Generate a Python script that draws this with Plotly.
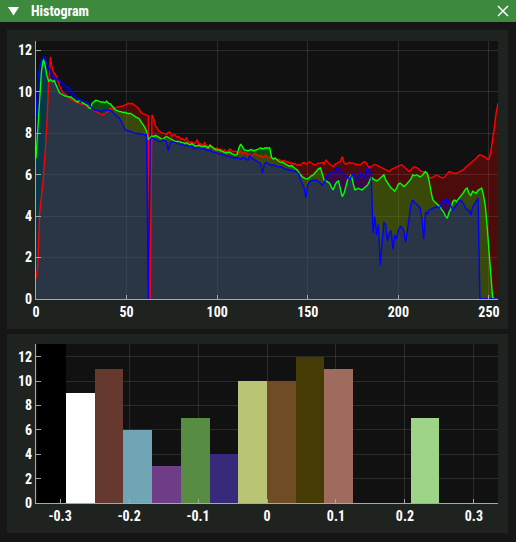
import plotly.graph_objects as go

# ---------------- data ----------------
bins = list(range(256))

red = [
    1.0, 1.6, 4.1, 4.9, 5.8, 7.0, 8.4, 10.5, 11.7, 11.1,
    10.9, 10.8, 10.5, 10.3, 10.1, 9.95, 9.9, 9.8, 9.75, 9.65,
    9.6, 9.55, 9.5, 9.5, 9.45, 9.4, 9.45, 9.35, 9.3, 9.35,
    9.25, 9.2, 9.1, 9.05, 9.0, 8.98, 8.92, 8.9, 8.95, 9.0,
    9.1, 9.2, 9.18, 9.22, 9.25, 9.28, 9.3, 9.3, 9.33, 9.35,
    9.4, 9.45, 9.42, 9.45, 9.38, 9.35, 9.25, 9.15, 9.0, 8.95,
    8.9, 8.88, 8.85, 0.0, 8.9, 8.7, 8.35, 8.2, 8.1, 8.05,
    8.0, 8.0, 7.95, 8.05, 8.05, 7.85, 7.95, 7.9, 7.8, 7.85,
    7.7, 7.75, 7.65, 7.8, 7.6, 7.55, 7.6, 7.5, 7.55, 7.7,
    7.45, 7.5, 7.4, 7.55, 7.4, 7.3, 7.45, 7.35, 7.3, 7.25,
    7.3, 7.2, 7.25, 7.15, 7.2, 7.1, 7.15, 7.25, 7.15, 7.1,
    7.15, 7.1, 7.05, 7.15, 7.0, 7.1, 7.05, 6.95, 7.0, 6.9,
    7.0, 7.05, 6.95, 6.9, 6.95, 6.85, 6.9, 6.95, 6.8, 6.85,
    6.8, 6.75, 6.8, 6.7, 6.75, 6.7, 6.65, 6.7, 6.6, 6.65,
    6.55, 6.6, 6.5, 6.55, 6.45, 6.5, 6.45, 6.55, 6.6, 6.5,
    6.55, 6.63, 6.58, 6.5, 6.47, 6.52, 6.57, 6.55, 6.6, 6.5,
    6.72, 6.6, 6.5, 6.45, 6.39, 6.5, 6.55, 6.6, 6.65, 6.87,
    6.6, 6.5, 6.55, 6.6, 6.55, 6.57, 6.52, 6.5, 6.48, 6.47,
    6.55, 6.63, 6.6, 6.45, 6.33, 6.4, 6.45, 6.5, 6.47, 6.42,
    6.38, 6.33, 6.3, 6.25, 6.2, 6.15, 6.25, 6.3, 6.35, 6.39,
    6.42, 6.45, 6.47, 6.4, 6.3, 6.2, 6.15, 6.25, 6.35, 6.39,
    6.35, 6.3, 6.2, 6.15, 6.15, 6.1, 6.05, 5.9, 5.85, 5.88,
    5.95, 5.99, 5.95, 5.9, 5.85, 5.85, 5.95, 6.05, 6.15, 6.12,
    6.08, 6.07, 6.07, 6.1, 6.15, 6.2, 6.25, 6.35, 6.42, 6.5,
    6.58, 6.63, 6.7, 6.8, 6.9, 6.96, 6.93, 6.9, 6.85, 6.75,
    6.75, 7.1, 7.6, 8.3, 9.0, 9.45,
]

green = [
    6.8, 8.2, 9.8, 11.0, 11.6, 11.3, 10.8, 10.5, 10.6, 10.5,
    10.55, 10.35, 10.15, 9.95, 9.9, 9.85, 9.8, 9.8, 9.75, 9.77,
    9.7, 9.6, 9.55, 9.5, 9.6, 9.55, 9.45, 9.4, 9.37, 9.25,
    9.2, 9.45, 9.55, 9.6, 9.58, 9.55, 9.5, 9.52, 9.48, 9.55,
    9.45, 9.42, 9.3, 9.2, 9.12, 9.1, 9.05, 9.05, 9.0, 9.02,
    8.97, 8.95, 8.97, 8.9, 8.85, 8.8, 8.75, 8.7, 8.55, 8.45,
    8.3, 8.1, 7.7, 7.8, 7.87, 7.85, 7.9, 7.85, 7.8, 7.75,
    7.7, 7.8, 7.85, 7.8, 7.75, 7.7, 7.65, 7.6, 7.62, 7.6,
    7.6, 7.55, 7.5, 7.55, 7.5, 7.45, 7.5, 7.42, 7.38, 7.4,
    7.42, 7.38, 7.35, 7.4, 7.35, 7.3, 7.42, 7.35, 7.28, 7.22,
    7.2, 7.2, 7.15, 7.12, 7.1, 7.05, 7.08, 7.1, 7.02, 7.0,
    6.95, 6.98, 7.3, 7.48, 7.35, 7.2, 7.18, 7.15, 7.2, 7.22,
    7.15, 7.18, 7.2, 7.25, 7.3, 7.25, 7.28, 7.3, 7.28, 7.3,
    6.85, 6.75, 6.8, 6.7, 6.65, 6.6, 6.62, 6.55, 6.5, 6.45,
    6.4, 6.45, 6.35, 6.3, 6.25, 6.1, 6.0, 5.9, 5.85, 5.8,
    5.8, 5.9, 5.95, 5.99, 6.1, 6.2, 6.3, 6.33, 6.0, 5.75,
    5.7, 5.65, 5.6, 5.4, 5.27, 5.5, 5.65, 5.7, 5.3, 4.94,
    5.1, 5.4, 5.75, 5.85, 6.0, 5.6, 5.27, 5.3, 5.35, 5.3,
    5.27, 5.35, 5.43, 5.5, 5.67, 5.91, 5.8, 5.75, 5.7, 5.75,
    5.85, 5.95, 6.0, 5.75, 5.6, 5.45, 5.35, 5.3, 5.2, 5.35,
    5.55, 5.6, 5.5, 5.43, 5.5, 5.6, 5.7, 5.8, 6.0, 5.95,
    6.0, 5.95, 5.9, 5.95, 6.05, 6.15, 6.05, 5.7, 5.2, 4.8,
    4.7, 4.62, 4.55, 4.46, 4.3, 4.2, 4.0, 3.9, 4.2, 4.35,
    4.7, 4.78, 4.7, 4.8, 4.95, 5.05, 5.15, 5.3, 5.36, 5.1,
    5.0, 5.2, 5.15, 5.1, 5.25, 5.3, 5.36, 5.0, 4.5, 3.5,
    2.4, 1.3, 0.1, 0.0, 0.0, 0.0,
]

blue = [
    8.8, 10.5, 11.2, 11.5, 11.65, 11.7, 11.4, 11.2, 11.0, 10.8,
    10.7, 10.65, 10.6, 10.55, 10.45, 10.35, 10.25, 10.2, 10.22, 10.1,
    9.95, 9.85, 9.75, 9.7, 9.6, 9.55, 9.55, 9.5, 9.55, 9.4,
    9.3, 9.2, 9.15, 9.1, 9.12, 9.1, 9.05, 9.1, 9.12, 9.15,
    9.1, 9.12, 9.05, 8.95, 8.85, 8.8, 8.75, 8.6, 8.4, 8.2,
    8.15, 8.12, 8.1, 8.05, 8.02, 8.0, 7.98, 8.0, 7.95, 7.97,
    7.92, 7.95, 0.0, 7.7, 7.8, 7.75, 7.72, 7.65, 7.6, 7.6,
    7.7, 7.65, 7.6, 7.15, 7.55, 7.6, 7.58, 7.55, 7.5, 7.52,
    7.45, 7.48, 7.4, 7.42, 7.38, 7.35, 7.4, 7.3, 7.28, 7.32,
    7.3, 7.25, 7.28, 7.22, 7.2, 7.15, 7.2, 7.12, 7.1, 7.08,
    7.05, 7.02, 7.0, 6.98, 6.95, 6.9, 6.92, 6.88, 6.85, 6.82,
    6.8, 6.82, 6.78, 6.75, 6.8, 6.85, 6.75, 6.7, 6.96, 6.8,
    6.75, 6.7, 6.65, 6.6, 6.55, 6.08, 6.5, 6.6, 6.55, 6.5,
    6.45, 6.48, 6.42, 6.4, 6.38, 6.4, 6.35, 6.3, 6.25, 6.28,
    6.2, 6.22, 6.15, 6.18, 6.1, 6.05, 5.75, 5.6, 5.4, 4.9,
    5.5, 5.67, 5.7, 5.75, 5.72, 5.75, 5.65, 5.6, 5.5, 5.6,
    5.8, 6.0, 6.05, 6.1, 6.07, 6.15, 6.3, 6.33, 6.15, 6.1,
    6.0, 5.95, 5.9, 5.75, 5.95, 6.1, 5.9, 5.75, 5.95, 6.15,
    6.0, 5.9, 6.05, 6.33, 6.2, 6.0, 3.19, 3.98, 3.1, 3.6,
    1.65, 2.6, 3.7, 3.6, 2.8, 3.2, 3.3, 2.4, 3.1, 2.9,
    3.3, 3.5, 3.45, 3.3, 2.75, 3.3, 3.9, 4.6, 4.78, 4.65,
    4.6, 4.5, 4.4, 3.9, 2.9, 4.2, 4.1, 4.3, 4.35, 4.4,
    4.42, 4.45, 4.4, 4.45, 4.7, 4.78, 4.65, 4.87, 4.6, 4.5,
    4.3, 4.4, 4.55, 4.65, 4.78, 4.72, 4.6, 4.4, 4.3, 4.3,
    4.06, 4.45, 4.6, 4.78, 4.87, 0.0, 0.0, 0.0, 0.0, 0.0,
    0.0, 0.0, 0.0, 0.0, 0.0, 0.0,
]

bar_centers = [-0.3125, -0.2708, -0.2292, -0.1875, -0.1458, -0.1042, -0.0625, -0.0208,
               0.0208, 0.0625, 0.1042, 0.1458, 0.1875, 0.2292, 0.2708, 0.3125]
bar_counts = [13, 9, 11, 6, 3, 7, 4, 10, 10, 12, 11, 0, 0, 7, 0, 0]
bar_colors = ["#000000", "#ffffff", "#66392e", "#6fa5b5", "#6f3d87", "#578c42",
              "#372a7b", "#b9c575", "#6f4b26", "#463b05", "#9e6b5e", "#5a5a5a",
              "#5a5a5a", "#9ed488", "#5a5a5a", "#5a5a5a"]
bar_width = 0.04167

x_ticks_top = [0, 50, 100, 150, 200, 250]
y_ticks_top = [0, 2, 4, 6, 8, 10, 12]
x_ticks_bot = [-0.3, -0.2, -0.1, 0, 0.1, 0.2, 0.3]
x_ticktext_bot = ["-0.3", "-0.2", "-0.1", "0", "0.1", "0.2", "0.3"]
y_ticks_bot = [0, 2, 4, 6, 8, 10, 12]

# ---------------- layout helpers ----------------
W, H = 516, 542
def px(x):
    return x / W
def py(y):
    return 1 - y / H

FONT = "Liberation Sans Narrow, Arial Narrow, Roboto Condensed, sans-serif"
tickfont = dict(family=FONT, size=14, color="#ffffff", weight="bold")

fig = go.Figure()

fills = [(red, "rgba(255,0,0,0.25)"), (green, "rgba(0,255,0,0.25)"), (blue, "rgba(0,0,255,0.25)")]
for ys, fc in fills:
    fig.add_trace(go.Scatter(x=bins, y=ys, mode="lines", line=dict(width=0),
                             fill="tozeroy", fillcolor=fc, hoverinfo="skip",
                             xaxis="x", yaxis="y", showlegend=False))
lines = [(red, "#ff0000"), (green, "#00ff00"), (blue, "#0000ff")]
for ys, lc in lines:
    fig.add_trace(go.Scatter(x=bins, y=ys, mode="lines", line=dict(width=1.4, color=lc),
                             xaxis="x", yaxis="y", showlegend=False))

fig.add_trace(go.Bar(x=bar_centers, y=bar_counts, width=bar_width,
                     marker=dict(color=bar_colors, line=dict(width=0)),
                     xaxis="x2", yaxis="y2", showlegend=False))

grid = "rgba(255,255,255,0.11)"
axis_common = dict(showline=True, linecolor="#a8a8a8", linewidth=1, ticks="inside",
                   tickcolor="#a8a8a8", gridcolor=grid, zeroline=False, automargin=False,
                   tickfont=tickfont, fixedrange=True)

fig.update_layout(
    width=W, height=H, margin=dict(l=0, r=0, t=0, b=0, pad=0), autosize=False,
    paper_bgcolor="#171717", plot_bgcolor="rgba(0,0,0,0)",
    xaxis=dict(domain=[px(36), px(498)], range=[0, 255], tickvals=x_ticks_top,
               ticklen=4, anchor="y", **axis_common),
    yaxis=dict(domain=[py(299), py(41)], range=[0, 12.46], tickvals=y_ticks_top,
               ticklen=5, anchor="x", **axis_common),
    xaxis2=dict(domain=[px(36), px(498)], range=[-0.335, 0.335], tickvals=x_ticks_bot,
                ticktext=x_ticktext_bot, ticklen=4, anchor="y2", **axis_common),
    yaxis2=dict(domain=[py(503), py(344)], range=[0, 13.04], tickvals=y_ticks_bot,
                ticklen=5, anchor="x2", **axis_common),
    bargap=0,
)

shapes = []
def rect(x0, y0, x1, y1, color, layer="below"):
    shapes.append(dict(type="rect", xref="paper", yref="paper",
                       x0=px(x0), x1=px(x1), y0=py(y1), y1=py(y0),
                       fillcolor=color, line=dict(width=0), layer=layer))

rect(0, 22, 516, 542, "#161616")
rect(7, 30, 508, 329, "#1f2320")
rect(7, 334, 508, 533, "#1f2320")
rect(36, 41, 498, 299, "#111111")
rect(36, 344, 498, 503, "#111111")
rect(0, 0, 516, 22, "#3d8a3f")
shapes.append(dict(type="path", xref="paper", yref="paper",
                   path=f"M {px(8)} {py(7)} L {px(19)} {py(7)} L {px(13.5)} {py(15.5)} Z",
                   fillcolor="#ffffff", line=dict(width=0), layer="above"))
for (a, b, c, d) in [(498, 6, 508, 16), (498, 16, 508, 6)]:
    shapes.append(dict(type="line", xref="paper", yref="paper",
                       x0=px(a), y0=py(b), x1=px(c), y1=py(d),
                       line=dict(color="#ffffff", width=1.5), layer="above"))
fig.update_layout(shapes=shapes)

fig.add_annotation(x=px(29), y=py(11), xref="paper", yref="paper", xanchor="left",
                   yanchor="middle", showarrow=False, text="Histogram",
                   font=dict(family=FONT, size=14, color="#ffffff", weight="bold"))

post = """
document.documentElement.style.margin='0';
document.body.style.margin='0';
document.documentElement.style.overflow='hidden';
document.body.style.overflow='hidden';
"""
fig.write_html("out.html", config={"displayModeBar": False}, post_script=post)
